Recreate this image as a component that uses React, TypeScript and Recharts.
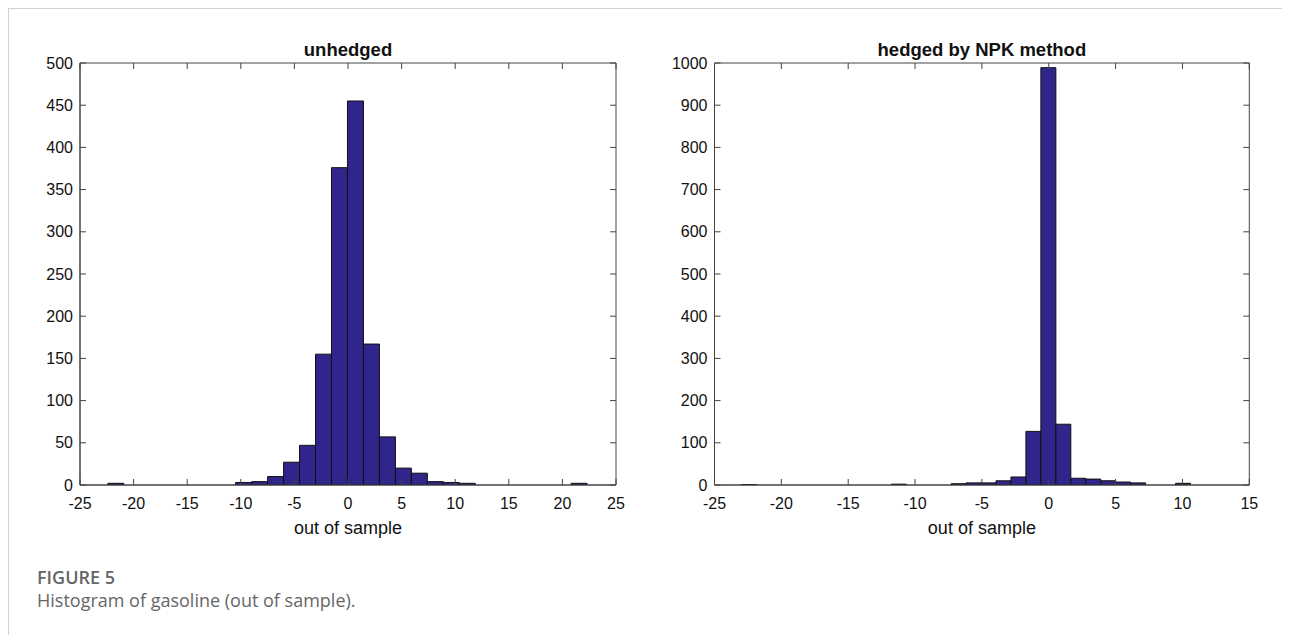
import { Bar, BarChart, ReferenceArea, XAxis, YAxis } from "recharts";

// histogram bins: first edge + width, counts
const unhedgedStart = -22.4;
const unhedgedWidth = 1.49;
const unhedgedCounts = [
  2, 0, 0, 0, 0, 0, 0, 0, 3, 4, 10, 27, 47, 155, 376, 455, 167, 57, 20, 14, 4, 3, 2, 0, 0, 0, 0, 0, 0, 2,
];

const hedgedStart = -22.97;
const hedgedWidth = 1.119;
const hedgedCounts = [
  1, 0, 0, 0, 0, 0, 0, 0, 0, 0, 2, 0, 0, 0, 3, 5, 5, 10, 19, 127, 989, 144, 16, 14, 10, 7, 5, 0, 0, 4,
];

const unhedgedXTicks = [-25, -20, -15, -10, -5, 0, 5, 10, 15, 20, 25];
const unhedgedYTicks = [0, 50, 100, 150, 200, 250, 300, 350, 400, 450, 500];
const hedgedXTicks = [-25, -20, -15, -10, -5, 0, 5, 10, 15];
const hedgedYTicks = [0, 100, 200, 300, 400, 500, 600, 700, 800, 900, 1000];

const FONT = "'Liberation Sans', Arial, Helvetica, sans-serif";
const AXIS = "#444";
const BAR = "#30258a";
const TICK_LEN = 6;

const CHART_W = 640;
const CHART_H = 560;
const M_TOP = 54;
const M_BOTTOM = 35;
const X_AXIS_H = 49;
const Y_AXIS_W = 60;
const PLOT_H = CHART_H - M_TOP - M_BOTTOM - X_AXIS_H;

const toBins = (start: number, width: number, counts: number[]) =>
  counts.map((c, i) => ({ x: start + (i + 0.5) * width, count: c }));

// matlab style: ticks point inward, mirrored on the opposite side of the box
const makeXTick = (margin: number) => (props: any) => {
  const { x, y, payload } = props;
  const axisY = y - margin;
  return (
    <g>
      <line x1={x} y1={axisY} x2={x} y2={axisY - TICK_LEN} stroke={AXIS} />
      <line x1={x} y1={axisY - PLOT_H} x2={x} y2={axisY - PLOT_H + TICK_LEN} stroke={AXIS} />
      <text x={x} y={y} dy="0.71em" textAnchor="middle" fontSize={16} fill="#111" fontFamily={FONT}>
        {payload.value}
      </text>
    </g>
  );
};

const makeYTick = (margin: number, plotW: number) => (props: any) => {
  const { x, y, payload } = props;
  const axisX = x + margin;
  return (
    <g>
      <line x1={axisX} y1={y} x2={axisX + TICK_LEN} y2={y} stroke={AXIS} />
      <line x1={axisX + plotW} y1={y} x2={axisX + plotW - TICK_LEN} y2={y} stroke={AXIS} />
      <text x={x} y={y} dy="0.355em" textAnchor="end" fontSize={16} fill="#111" fontFamily={FONT}>
        {payload.value}
      </text>
    </g>
  );
};

type PanelProps = {
  title: string;
  data: { x: number; count: number }[];
  xTicks: number[];
  yTicks: number[];
  left: number;
  marginLeft: number;
  marginRight: number;
};

function HistPanel({ title, data, xTicks, yTicks, left, marginLeft, marginRight }: PanelProps) {
  const xDomain: [number, number] = [xTicks[0], xTicks[xTicks.length - 1]];
  const yDomain: [number, number] = [yTicks[0], yTicks[yTicks.length - 1]];
  const plotLeft = left + marginLeft + Y_AXIS_W;
  const plotWidth = CHART_W - marginLeft - Y_AXIS_W - marginRight;
  return (
    <>
      <div
        style={{
          position: "absolute",
          left: plotLeft,
          width: plotWidth,
          top: 30,
          textAlign: "center",
          fontFamily: FONT,
          fontWeight: "bold",
          fontSize: 18.5,
          color: "#111",
        }}
      >
        {title}
      </div>
      <div style={{ position: "absolute", left, top: 0 }}>
        <BarChart
          width={CHART_W}
          height={CHART_H}
          data={data}
          barCategoryGap={0}
          barGap={0}
          margin={{ top: M_TOP, right: marginRight, left: marginLeft, bottom: M_BOTTOM }}
        >
          <XAxis
            dataKey="x"
            type="number"
            domain={xDomain}
            ticks={xTicks}
            allowDataOverflow
            interval={0}
            height={X_AXIS_H}
            tickSize={0}
            tickLine={false}
            tickMargin={13}
            stroke={AXIS}
            tick={makeXTick(13)}
            label={{
              value: "out of sample",
              position: "insideBottom",
              offset: 0,
              style: { fontSize: 18, fill: "#111", fontFamily: FONT },
            }}
          />
          <YAxis
            type="number"
            domain={yDomain}
            ticks={yTicks}
            allowDataOverflow
            interval={0}
            width={Y_AXIS_W}
            tickSize={0}
            tickLine={false}
            tickMargin={7}
            stroke={AXIS}
            tick={makeYTick(7, plotWidth)}
          />
          <Bar dataKey="count" fill={BAR} stroke="#111" strokeWidth={1} isAnimationActive={false} />
          <ReferenceArea
            x1={xDomain[0]}
            x2={xDomain[1]}
            y1={yDomain[0]}
            y2={yDomain[1]}
            fill="none"
            fillOpacity={0}
            stroke={AXIS}
            strokeWidth={1}
          />
        </BarChart>
      </div>
    </>
  );
}

export default function App() {
  return (
    <div
      style={{
        position: "relative",
        width: 1282,
        height: 627,
        borderTop: "1px solid #d2d2d2",
        borderLeft: "1px solid #d2d2d2",
        boxSizing: "border-box",
        overflow: "hidden",
      }}
    >
      <HistPanel
        title="unhedged"
        data={toBins(unhedgedStart, unhedgedWidth, unhedgedCounts)}
        xTicks={unhedgedXTicks}
        yTicks={unhedgedYTicks}
        left={0}
        marginLeft={11}
        marginRight={33}
      />
      <HistPanel
        title="hedged by NPK method"
        data={toBins(hedgedStart, hedgedWidth, hedgedCounts)}
        xTicks={hedgedXTicks}
        yTicks={hedgedYTicks}
        left={631}
        marginLeft={14.5}
        marginRight={30.7}
      />
      <div
        style={{
          position: "absolute",
          left: 28,
          top: 557,
          fontFamily: "'Open Sans', sans-serif",
          color: "#666",
          fontSize: 18,
          lineHeight: "23px",
        }}
      >
        <div style={{ fontWeight: 600 }}>FIGURE 5</div>
        <div>Histogram of gasoline (out of sample).</div>
      </div>
    </div>
  );
}
